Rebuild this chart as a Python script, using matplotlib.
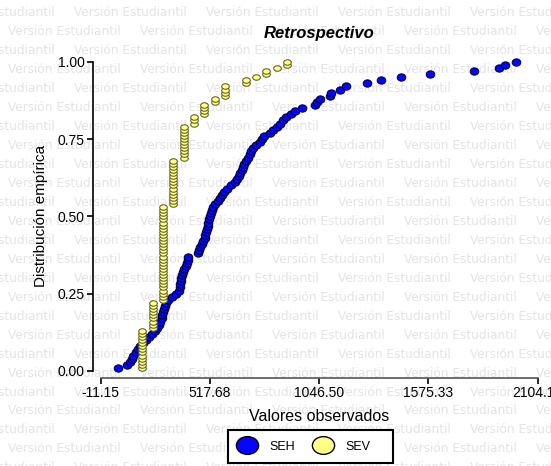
import numpy as np
import matplotlib
matplotlib.use("Agg")
import matplotlib.pyplot as plt
from matplotlib.lines import Line2D
from matplotlib.path import Path
from matplotlib.patches import Rectangle

# Observed values, series SEH (sorted)
seh_values = [
    74.0, 118.5, 130.6, 138.8, 147.5, 159.6, 171.7, 181.4, 193.5, 210.4,
    224.9, 239.5, 254.0, 263.6, 272.4, 278.2, 284.0, 286.9, 290.3, 295.1,
    299.9, 307.2, 314.4, 332.3, 353.2, 367.7, 371.1, 372.5, 375.9, 378.8,
    384.6, 389.4, 394.3, 400.1, 405.4, 411.2, 413.6, 461.0, 464.4, 469.3,
    478.9, 486.2, 492.0, 495.9, 499.7, 503.1, 507.0, 510.4, 514.3, 517.6,
    521.5, 525.9, 534.6, 544.3, 556.3, 568.4, 575.7, 587.8, 599.9, 619.2,
    641.0, 648.3, 657.9, 665.2, 671.0, 677.3, 684.6, 691.8, 701.5, 709.7,
    718.4, 727.1, 742.6, 759.5, 769.2, 781.3, 807.9, 823.9, 840.3, 856.3,
    872.3, 887.8, 908.1, 928.9, 961.3, 1025.6, 1037.7, 1049.8, 1100.0, 1102.0,
    1146.6, 1174.2, 1275.8, 1344.9, 1440.3, 1582.0, 1796.3, 1917.3, 1944.8, 2001.5,
]

# Observed values, series SEV (distinct values and their frequencies)
sev_levels = [190, 240, 290, 340, 390, 440, 490, 540, 590, 690, 740, 790, 840, 890]
sev_counts = [13, 9, 31, 15, 11, 3, 4, 2, 4, 2, 1, 2, 1, 2]

series_names = ["SEH", "SEV"]
x_ticks = [-11.15, 517.68, 1046.50, 1575.33, 2104.16]
x_tick_labels = ["-11.15", "517.68", "1046.50", "1575.33", "2104.16"]
y_ticks = [0.0, 0.25, 0.50, 0.75, 1.00]
y_tick_labels = ["0.00", "0.25", "0.50", "0.75", "1.00"]

BLUE, BLUE_EDGE = "#0505ff", "#000030"
YELLOW, YELLOW_EDGE = "#ffff88", "#5c5c22"


def ecdf(values):
    v = np.sort(np.asarray(values, dtype=float))
    return v, np.arange(1, len(v) + 1) / len(v)


def ellipse_marker(ratio):
    circ = Path.unit_circle()
    return Path(circ.vertices * np.array([1.0, ratio]), circ.codes)


seh_x, seh_y = ecdf(seh_values)
sev_x, sev_y = ecdf(np.repeat(sev_levels, sev_counts))

W, H = 551, 466
fig = plt.figure(figsize=(W / 100, H / 100), dpi=100)
fig.patch.set_facecolor("white")

# Background watermark rows
row_y0, row_step, period = 13, 18.95, 132
for k in range(26):
    y = row_y0 + k * row_step
    start = 74 if k % 2 == 0 else 8
    x = start - period
    while x < W:
        fig.text(x / W, 1 - y / H, "Versión Estudiantil", fontsize=8.7,
                 family="DejaVu Sans", color="#e4e4e4", ha="left", va="center",
                 zorder=-5)
        x += period

left, right = 100.7 / W, 537.7 / W
top, bottom = 1 - 61.7 / H, 1 - 371 / H
ax = fig.add_axes([left, bottom, right - left, top - bottom])
ax.set_facecolor("none")

ax.scatter(seh_x, seh_y, s=38, marker=ellipse_marker(0.85), color=BLUE,
           edgecolors=BLUE_EDGE, linewidths=0.75, zorder=3, clip_on=False)
ax.scatter(sev_x, sev_y, s=30, marker=ellipse_marker(0.72), color=YELLOW,
           edgecolors=YELLOW_EDGE, linewidths=0.75, zorder=4, clip_on=False)

ax.set_xlim(x_ticks[0], x_ticks[-1])
ax.set_ylim(0, 1)

for s in ("top", "right"):
    ax.spines[s].set_visible(False)
ax.spines["left"].set_position(("outward", 5.5))
ax.spines["bottom"].set_position(("outward", 5))
ax.spines["left"].set_linewidth(1.2)
ax.spines["bottom"].set_linewidth(1.2)
ax.spines["bottom"].set_color("#555555")

ax.set_xticks(x_ticks)
ax.set_xticklabels(x_tick_labels)
ax.set_yticks(y_ticks)
ax.set_yticklabels(y_tick_labels)
ax.tick_params(direction="out", length=4, width=1.2, labelsize=10, pad=2)
for lab in ax.get_xticklabels() + ax.get_yticklabels():
    lab.set_family("Liberation Sans")

ax.set_xlabel("Valores observados", family="Liberation Sans", fontsize=11.5,
              labelpad=6)
ax.set_ylabel("Distribución empírica", family="Liberation Sans", fontsize=11,
              labelpad=7)
ax.set_title("Retrospectivo", family="Liberation Sans", fontsize=12,
             fontweight="bold", fontstyle="italic", pad=17)

# Legend: framed box under the axis title
fig.patches.append(Rectangle((228 / W, 1 - 463 / H), 165 / W, 33 / H,
                             transform=fig.transFigure, facecolor="white",
                             edgecolor="black", linewidth=1.5, zorder=1))
legend_marker = ellipse_marker(0.8)
handles = [
    Line2D([], [], marker=legend_marker, linestyle="", markersize=16,
           markerfacecolor=BLUE, markeredgecolor="black", markeredgewidth=1),
    Line2D([], [], marker=legend_marker, linestyle="", markersize=16,
           markerfacecolor=YELLOW, markeredgecolor="black", markeredgewidth=1),
]
leg = fig.legend(handles, series_names, loc="center left",
                 bbox_to_anchor=(229 / W, 1 - 446.5 / H), ncol=2,
                 frameon=False, prop={"family": "Liberation Sans", "size": 9},
                 handletextpad=0.95, columnspacing=1.3, borderpad=0.5,
                 handlelength=1.8, borderaxespad=0)
leg.set_zorder(2)

fig.savefig("out.png", dpi=100)
